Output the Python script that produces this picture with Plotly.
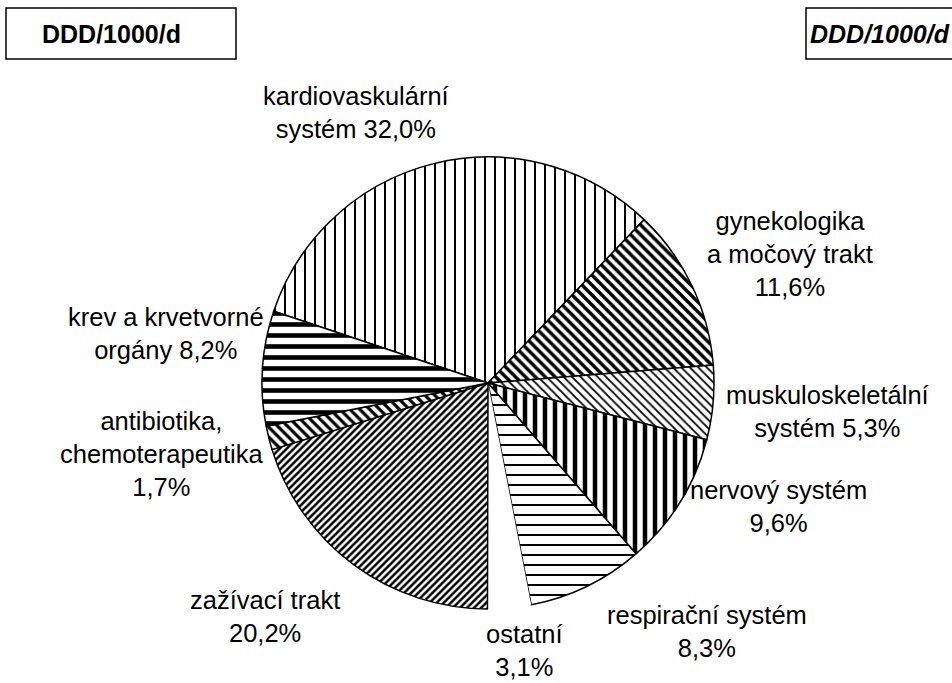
import plotly.graph_objects as go

# Share of consumption by therapeutic group (DDD/1000/d), clockwise order
groups = [
    "kardiovaskulární systém",
    "gynekologika a močový trakt",
    "muskuloskeletální systém",
    "nervový systém",
    "respirační systém",
    "ostatní",
    "zažívací trakt",
    "antibiotika, chemoterapeutika",
    "krev a krvetvorné orgány",
]
shares = [32.0, 11.6, 5.3, 9.6, 8.3, 3.1, 20.2, 1.7, 8.2]

# Label templates: {p} is replaced by the formatted share
label_templates = [
    "kardiovaskulární<br>systém {p}",
    "gynekologika<br>a močový trakt<br>{p}",
    "muskuloskeletální<br>systém {p}",
    "nervový systém<br>{p}",
    "respirační systém<br>{p}",
    "ostatní<br>{p}",
    "zažívací trakt<br>{p}",
    "antibiotika,<br>chemoterapeutika<br>{p}",
    "krev a krvetvorné<br>orgány {p}",
]

# Hatching for each slice (black on white)
hatch_shape = ["|", "\\", "\\", "|", "-", "", "/", "\\", "-"]
hatch_size = [10, 7, 6, 10, 10, 8, 5, 7, 11]
hatch_solidity = [0.2, 0.48, 0.3, 0.45, 0.2, 0.3, 0.5, 0.45, 0.42]
edge_width = [1.5, 1.5, 1.5, 1.5, 1.5, 0, 1.5, 1.5, 1.5]

# Label block centres in page pixels
label_px = [
    (356, 112), (790, 254), (827, 411), (778, 506), (707, 631),
    (524, 650), (265, 616), (162, 454), (166, 334),
]

W, H = 952, 683
FONT = "Liberation Sans, Arial, sans-serif"


def fmt(v):
    return f"{v:.1f}".replace(".", ",") + "%"


def px(x, y):
    return x / W, 1 - y / H


cx, cy, r = 488, 383, 226

fig = go.Figure(
    go.Pie(
        labels=groups,
        values=shares,
        sort=False,
        direction="clockwise",
        rotation=-71.5,
        textinfo="none",
        hoverinfo="label+percent",
        showlegend=False,
        domain=dict(x=[(cx - r) / W, (cx + r) / W], y=[1 - (cy + r) / H, 1 - (cy - r) / H]),
        marker=dict(
            colors=["white"] * len(shares),
            line=dict(color="black", width=edge_width),
            pattern=dict(
                shape=hatch_shape,
                size=hatch_size,
                solidity=hatch_solidity,
                fgcolor="black",
                bgcolor="white",
                fillmode="replace",
            ),
        ),
    )
)

annotations = []
for tpl, v, (lx, ly) in zip(label_templates, shares, label_px):
    ax, ay = px(lx, ly)
    annotations.append(dict(
        x=ax, y=ay, xref="paper", yref="paper",
        text=tpl.format(p=fmt(v)), showarrow=False, align="center",
        xanchor="center", yanchor="middle",
        font=dict(family=FONT, size=25.5, color="black"),
    ))

# Unit boxes in the top corners
x0, y0 = px(6, 8)
x1, y1 = px(236, 59)
x2, _ = px(806, 8)
shapes = [
    dict(type="rect", xref="paper", yref="paper", x0=x0, x1=x1, y0=y1, y1=y0,
         line=dict(color="black", width=1.5)),
    dict(type="rect", xref="paper", yref="paper", x0=x2, x1=1.02, y0=y1, y1=y0,
         line=dict(color="black", width=1.5)),
]
bx, by = px(111, 34)
annotations.append(dict(x=bx, y=by, xref="paper", yref="paper", text="<b>DDD/1000/d</b>",
                        showarrow=False, xanchor="center", yanchor="middle",
                        font=dict(family=FONT, size=25, color="black")))
bx2, _ = px(880, 34)
annotations.append(dict(x=bx2, y=by, xref="paper", yref="paper", text="<b><i>DDD/1000/d</i></b>",
                        showarrow=False, xanchor="center", yanchor="middle",
                        font=dict(family=FONT, size=25, color="black")))

fig.update_layout(
    width=W, height=H,
    margin=dict(l=0, r=0, t=0, b=0),
    paper_bgcolor="white", plot_bgcolor="white",
    annotations=annotations, shapes=shapes,
)

fig.write_html("out.html")
